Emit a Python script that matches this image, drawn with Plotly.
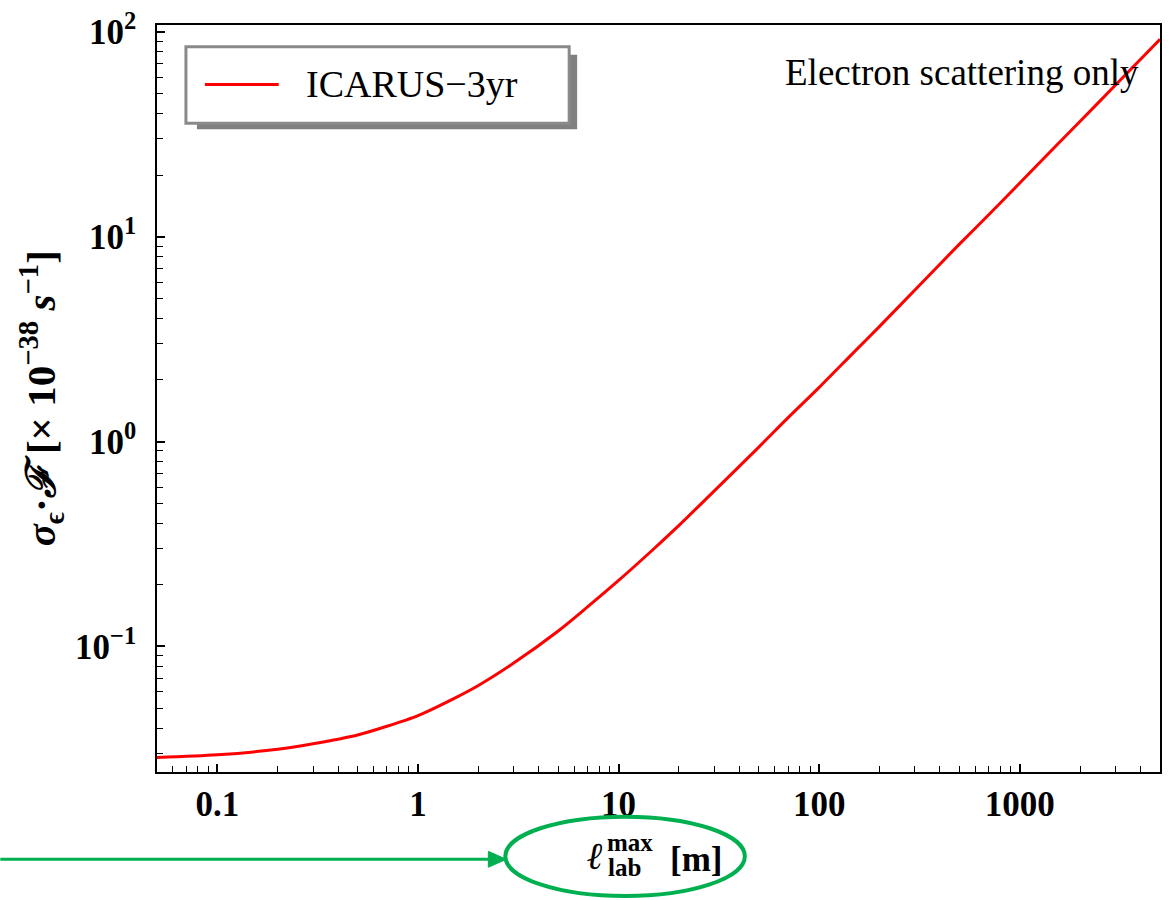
import plotly.graph_objects as go
import numpy as np

# ---- data ----
l_max_m = [0.05, 0.1, 0.2, 0.3, 0.5, 0.7, 1, 1.5, 2, 3, 5, 7, 10, 15, 20, 30, 50, 70,
           100, 150, 200, 300, 500, 700, 1000, 1500, 2000, 3000, 5000]
sigma_F = [0.0287, 0.0296, 0.0315, 0.0335, 0.0370, 0.0408, 0.0460, 0.0555, 0.0645, 0.083,
           0.119, 0.156, 0.210, 0.30, 0.39, 0.575, 0.94, 1.31,
           1.84, 2.75, 3.65, 5.5, 9.2, 12.8, 18.3, 27.5, 36.6, 55.0, 92.0]
series_name = "ICARUS−3yr"

x_tickvals = [0.1, 1, 10, 100, 1000]
x_ticktext = ["0.1", "1", "10", "100", "1000"]
y_tickvals = [0.1, 1, 10, 100]
y_ticktext = ["10<sup>−1</sup>", "10<sup>0</sup>", "10<sup>1</sup>", "10<sup>2</sup>"]

W, H = 1169, 900
L, R, T, B = 157, 1162, 19, 772

def px(p):
    return (p - L) / (R - L)

def py(p):
    return (B - p) / (B - T)

SERIF = "Liberation Serif"
GREEN = "#00B050"

fig = go.Figure()
fig.add_trace(go.Scatter(x=l_max_m, y=sigma_F, mode="lines", name=series_name,
                         line=dict(color="#ff0000", width=3, shape="spline", smoothing=0.8),
                         showlegend=False))

def axis_common():
    return dict(showline=True, linecolor="black", linewidth=1.5, mirror=True,
                ticks="inside", ticklen=8, tickwidth=1.5, tickcolor="black",
                showgrid=False, zeroline=False,
                minor=dict(tickmode="linear", dtick="D1", ticks="inside",
                           ticklen=6, tickwidth=1.3, tickcolor="black", showgrid=False),
                tickfont=dict(family=SERIF, size=35, color="black", weight="bold"))

fig.update_xaxes(type="log", range=[np.log10(0.05), np.log10(5000)],
                 tickvals=x_tickvals, ticktext=x_ticktext, ticklabelstandoff=0,
                 **axis_common())
fig.update_yaxes(type="log", range=[np.log10(0.0244), np.log10(108)],
                 tickvals=y_tickvals, ticktext=y_ticktext, ticklabelstandoff=12,
                 **axis_common())

shapes = []
annotations = []

# legend box with drop shadow
shapes.append(dict(type="rect", xref="paper", yref="paper",
                   x0=px(197), x1=px(578), y0=py(124), y1=py(49),
                   fillcolor="#808080", line=dict(width=0)))
shapes.append(dict(type="rect", xref="paper", yref="paper",
                   x0=px(186), x1=px(570), y0=py(118), y1=py(41),
                   fillcolor="white", line=dict(color="#8a8a8a", width=3)))
shapes.append(dict(type="line", xref="paper", yref="paper",
                   x0=px(205), x1=px(279), y0=py(79), y1=py(79),
                   line=dict(color="#ff0000", width=3)))
annotations.append(dict(text=series_name, xref="paper", yref="paper",
                        x=px(304), y=py(78), xanchor="left", yanchor="middle",
                        showarrow=False, font=dict(family=SERIF, size=38, color="black")))

# top-right note
annotations.append(dict(text="Electron scattering only", xref="paper", yref="paper",
                        x=px(1143), y=py(67), xanchor="right", yanchor="middle",
                        showarrow=False, font=dict(family=SERIF, size=37, color="black")))

# y axis title
annotations.append(dict(text="<i>σ</i><sub>ϵ</sub>·<i>ℱ</i> [× 10<sup>−38</sup> <i>s</i><sup>−1</sup>]",
                        xref="paper", yref="paper", x=px(41), y=py(395),
                        xanchor="center", yanchor="middle", textangle=-90, showarrow=False,
                        font=dict(family=SERIF, size=41, color="black", weight="bold")))

# x axis title: l with stacked max / lab
annotations.append(dict(text="<i>ℓ</i>", xref="paper", yref="paper", x=px(596), y=py(857),
                        xanchor="center", yanchor="middle", showarrow=False,
                        font=dict(family=SERIF, size=38, color="black", weight="bold")))
annotations.append(dict(text="max", xref="paper", yref="paper", x=px(606), y=py(843),
                        xanchor="left", yanchor="middle", showarrow=False,
                        font=dict(family=SERIF, size=25, color="black", weight="bold")))
annotations.append(dict(text="lab", xref="paper", yref="paper", x=px(607), y=py(868),
                        xanchor="left", yanchor="middle", showarrow=False,
                        font=dict(family=SERIF, size=25, color="black", weight="bold")))
annotations.append(dict(text="[m]", xref="paper", yref="paper", x=px(669), y=py(860),
                        xanchor="left", yanchor="middle", showarrow=False,
                        font=dict(family=SERIF, size=35, color="black", weight="bold")))

# green ellipse and arrow
shapes.append(dict(type="circle", xref="paper", yref="paper",
                   x0=px(506), x1=px(746), y0=py(897), y1=py(817),
                   line=dict(color=GREEN, width=4)))
shapes.append(dict(type="line", xref="paper", yref="paper",
                   x0=px(0), x1=px(492), y0=py(860), y1=py(860),
                   line=dict(color=GREEN, width=3)))
shapes.append(dict(type="path", xref="paper", yref="paper",
                   path=f"M {px(489)} {py(852)} L {px(507)} {py(860)} L {px(489)} {py(868)} Z",
                   fillcolor=GREEN, line=dict(color=GREEN, width=1)))

fig.update_layout(width=W, height=H, margin=dict(l=L, r=W - R, t=T, b=H - B),
                  paper_bgcolor="white", plot_bgcolor="white",
                  shapes=shapes, annotations=annotations, showlegend=False)

fig.write_html("out.html")
